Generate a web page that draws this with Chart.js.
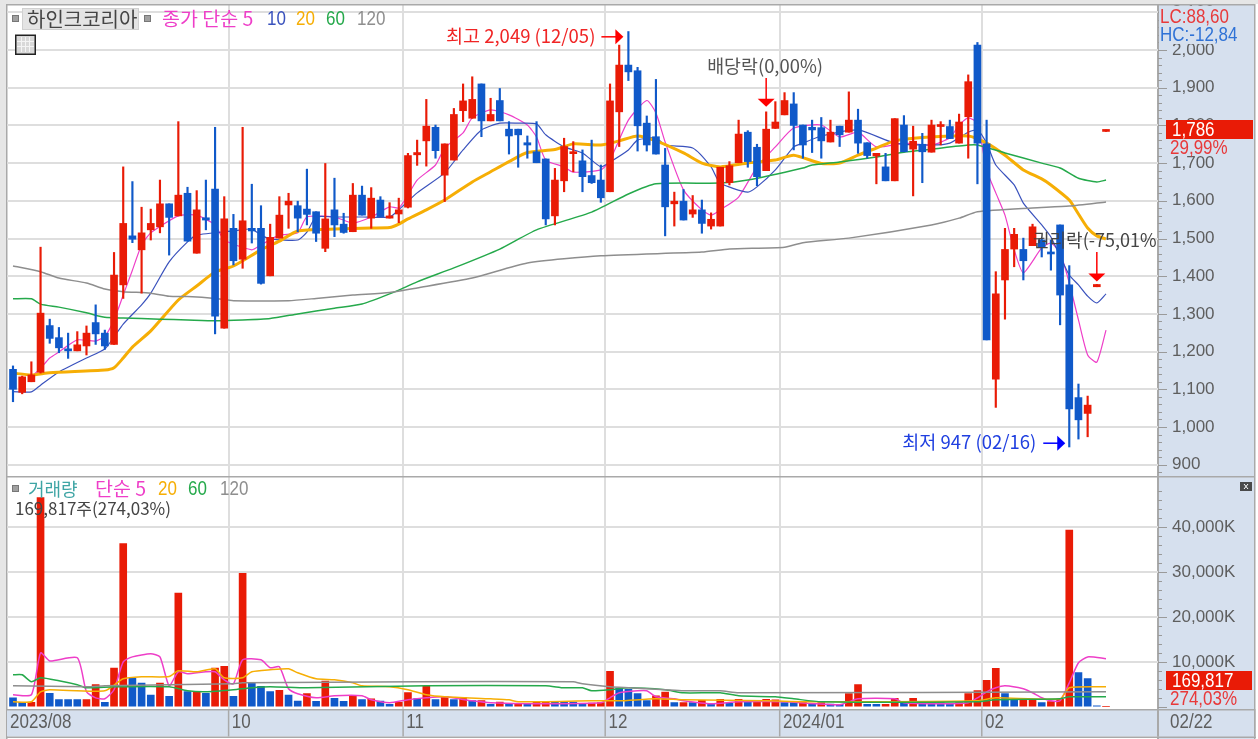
<!DOCTYPE html>
<html>
<head>
<meta charset="utf-8">
<title>하인크코리아</title>
<script src="https://cdn.jsdelivr.net/npm/chart.js@4/dist/chart.umd.min.js"></script>
<style>
    html, body { margin: 0; padding: 0; background: #fff; overflow: hidden; }
    canvas { position: absolute; left: 0; display: block; }
    #priceChart { top: 0; }
    #volumeChart { top: 476px; }
</style>
</head>
<body>
<canvas id="priceChart" width="1258" height="476"></canvas>
<canvas id="volumeChart" width="1258" height="263"></canvas>
<script>
// Price candles
const opens = [
    1153, 1092, 1120, 1145, 1269, 1237, 1207, 1202, 1215, 1277,
    1249, 1219, 1377, 1507, 1470, 1523, 1531, 1592, 1560, 1620,
    1461, 1555, 1631, 1262, 1527, 1445, 1527, 1527, 1401, 1501,
    1589, 1587, 1578, 1571, 1474, 1576, 1538, 1518, 1615, 1554,
    1602, 1554, 1565, 1583, 1722, 1759, 1795, 1668, 1708, 1839,
    1819, 1910, 1812, 1866, 1790, 1790, 1754, 1730, 1711, 1560,
    1653, 1725, 1706, 1667, 1655, 1624, 1836, 1960, 1945, 1806,
    1770, 1695, 1592, 1599, 1565, 1576, 1533, 1533, 1648, 1701,
    1782, 1742, 1680, 1792, 1828, 1857, 1801, 1795, 1794, 1756,
    1798, 1782, 1814, 1754, 1719, 1690, 1653, 1801, 1737, 1750,
    1729, 1797, 1797, 1753, 1823, 2013, 1751, 1127, 1390, 1472,
    1471, 1481, 1496, 1463, 1536, 1377, 1078, 1036, 1372, 1784
];
const highs = [
    1162, 1135, 1173, 1477, 1286, 1264, 1249, 1253, 1268, 1324,
    1257, 1463, 1690, 1651, 1583, 1578, 1655, 1592, 1810, 1636,
    1627, 1655, 1795, 1611, 1564, 1795, 1644, 1587, 1538, 1611,
    1620, 1599, 1684, 1571, 1699, 1660, 1567, 1646, 1639, 1635,
    1611, 1595, 1607, 1726, 1761, 1869, 1801, 1751, 1845, 1910,
    1929, 1910, 1872, 1898, 1810, 1790, 1772, 1810, 1711, 1686,
    1766, 1757, 1735, 1761, 1695, 1910, 2013, 2049, 1954, 1825,
    1922, 1739, 1623, 1630, 1614, 1602, 1568, 1689, 1704, 1814,
    1786, 1750, 1836, 1863, 1887, 1887, 1801, 1814, 1821, 1814,
    1798, 1889, 1843, 1754, 1726, 1726, 1818, 1826, 1798, 1779,
    1814, 1810, 1814, 1830, 1934, 2020, 1814, 1412, 1527, 1527,
    1501, 1538, 1501, 1496, 1536, 1428, 1114, 1082, 1378, 1788
];
const lows = [
    1067, 1088, 1120, 1143, 1222, 1197, 1182, 1202, 1191, 1219,
    1206, 1219, 1341, 1489, 1355, 1496, 1515, 1456, 1560, 1493,
    1461, 1523, 1247, 1262, 1430, 1421, 1488, 1379, 1401, 1501,
    1527, 1518, 1536, 1492, 1465, 1505, 1514, 1518, 1562, 1527,
    1558, 1554, 1542, 1581, 1694, 1692, 1713, 1598, 1708, 1810,
    1819, 1770, 1812, 1812, 1724, 1689, 1713, 1701, 1536, 1536,
    1624, 1677, 1624, 1646, 1596, 1624, 1744, 1919, 1732, 1732,
    1724, 1507, 1533, 1549, 1556, 1514, 1525, 1533, 1642, 1701,
    1689, 1640, 1680, 1792, 1828, 1735, 1713, 1728, 1713, 1756,
    1744, 1782, 1726, 1713, 1645, 1653, 1653, 1730, 1613, 1648,
    1729, 1748, 1765, 1753, 1713, 1645, 1231, 1052, 1286, 1425,
    1390, 1481, 1451, 1416, 1271, 947, 968, 974, 1372, 1784
];
const closes = [
    1100, 1133, 1138, 1302, 1235, 1210, 1202, 1218, 1249, 1247,
    1215, 1403, 1540, 1498, 1515, 1540, 1592, 1556, 1615, 1493,
    1576, 1549, 1294, 1552, 1441, 1547, 1520, 1381, 1503, 1562,
    1599, 1554, 1564, 1514, 1552, 1536, 1516, 1615, 1562, 1607,
    1558, 1560, 1576, 1720, 1728, 1798, 1733, 1751, 1829, 1865,
    1869, 1812, 1829, 1812, 1772, 1775, 1748, 1701, 1552, 1655,
    1744, 1730, 1664, 1648, 1608, 1865, 1960, 1942, 1799, 1748,
    1724, 1584, 1599, 1549, 1576, 1540, 1551, 1689, 1693, 1777,
    1704, 1664, 1790, 1809, 1866, 1800, 1748, 1788, 1759, 1782,
    1775, 1814, 1753, 1720, 1726, 1653, 1818, 1730, 1758, 1730,
    1801, 1801, 1765, 1809, 1916, 1753, 1231, 1353, 1471, 1511,
    1441, 1531, 1477, 1459, 1350, 1048, 1019, 1058, 1378, 1786
];

// Volume in thousand shares, and 1 = red bar, 0 = blue bar
const volumes = [
    2075, 1110, 1110, 46600, 3108, 1700, 1700, 1700, 1700, 5030,
    1110, 8730, 36400, 6440, 5400, 2740, 5400, 2440, 25380, 3480,
    3480, 3108, 8730, 9100, 2440, 29750, 5400, 4660, 3480, 3770,
    2740, 1400, 3040, 1330, 5850, 2000, 1330, 2520, 1700, 1900,
    1400, 660, 1110, 3260, 1920, 4740, 1700, 2370, 1700, 2150,
    1480, 1480, 660, 1180, 740, 740, 740, 1330, 1180, 1180,
    1180, 1180, 810, 960, 1040, 8000, 4220, 4000, 3040, 1480,
    2520, 3400, 1040, 1040, 1040, 1550, 740, 1780, 890, 1780,
    1180, 1180, 1780, 1630, 1040, 1040, 1180, 740, 1040, 740,
    660, 3040, 5030, 660, 660, 660, 2000, 1040, 2000, 1040,
    1040, 1040, 660, 1040, 3040, 3700, 6000, 8660, 3040, 1780,
    1780, 1780, 1040, 1260, 1780, 39400, 7700, 6370, 300, 170
];
const volumeUp = [
    0, 0, 1, 1, 0, 0, 0, 0, 1, 1,
    0, 1, 1, 0, 0, 0, 1, 0, 1, 0,
    1, 0, 1, 1, 0, 1, 0, 0, 0, 1,
    0, 0, 1, 0, 1, 0, 0, 1, 0, 1,
    0, 0, 1, 1, 0, 1, 0, 1, 0, 1,
    0, 1, 0, 1, 0, 1, 0, 1, 1, 0,
    0, 0, 0, 1, 1, 1, 0, 0, 0, 0,
    1, 1, 0, 1, 0, 1, 0, 1, 0, 1,
    0, 1, 1, 1, 0, 0, 1, 0, 1, 0,
    0, 1, 1, 0, 0, 1, 1, 0, 1, 0,
    0, 0, 0, 1, 1, 1, 1, 1, 0, 0,
    1, 1, 0, 1, 1, 1, 0, 0, 0, 1
];

// Price moving averages: bar index and value at each reading
const ma5At = [2, 3, 4, 5, 7, 9, 10, 11, 12, 13, 14, 15, 18, 20, 22, 23, 26, 27, 29, 31, 32, 35, 37, 39, 41, 42, 43, 44, 46, 47, 49, 50, 52, 54, 56, 57, 58, 60, 61, 64, 65, 67, 69, 70, 71, 73, 75, 76, 77, 79, 81, 83, 85, 88, 90, 92, 94, 97, 100, 102, 103, 104, 105, 106, 107, 108, 109, 110, 112, 113, 114, 115, 116, 117, 118, 119];
const ma5 = [1133, 1156, 1183, 1199, 1231, 1228, 1241, 1284, 1350, 1416, 1483, 1515, 1560, 1562, 1536, 1496, 1470, 1483, 1509, 1515, 1557, 1557, 1541, 1557, 1584, 1581, 1615, 1655, 1695, 1740, 1780, 1820, 1841, 1828, 1801, 1769, 1708, 1690, 1676, 1682, 1708, 1814, 1866, 1833, 1756, 1629, 1576, 1562, 1576, 1610, 1690, 1743, 1793, 1801, 1769, 1782, 1743, 1753, 1748, 1767, 1801, 1820, 1806, 1682, 1621, 1562, 1470, 1409, 1475, 1488, 1462, 1382, 1284, 1191, 1172, 1257];
const ma10At = [0, 2, 3, 5, 8, 10, 11, 12, 14, 15, 17, 19, 20, 24, 26, 27, 28, 31, 32, 33, 35, 38, 41, 42, 44, 47, 49, 51, 53, 55, 57, 58, 60, 62, 64, 65, 67, 68, 70, 71, 74, 76, 77, 80, 81, 83, 85, 86, 88, 92, 96, 100, 102, 104, 105, 106, 107, 109, 110, 112, 113, 115, 116, 117, 118, 119];
const ma10 = [1094, 1093, 1111, 1146, 1183, 1207, 1239, 1273, 1324, 1355, 1438, 1491, 1509, 1520, 1525, 1509, 1499, 1496, 1517, 1557, 1557, 1557, 1557, 1576, 1621, 1674, 1735, 1788, 1806, 1806, 1804, 1775, 1743, 1727, 1690, 1703, 1735, 1761, 1767, 1748, 1740, 1690, 1647, 1623, 1637, 1682, 1743, 1753, 1772, 1788, 1753, 1748, 1753, 1782, 1788, 1753, 1695, 1642, 1594, 1536, 1504, 1403, 1377, 1347, 1329, 1353];
const ma20At = [0, 2, 4, 10, 11, 12, 13, 15, 18, 20, 22, 24, 27, 29, 31, 35, 39, 41, 42, 43, 45, 47, 50, 52, 54, 56, 59, 61, 64, 66, 68, 70, 73, 75, 77, 80, 83, 85, 88, 90, 92, 94, 96, 99, 104, 106, 108, 110, 112, 113, 115, 116, 117, 118, 119];
const ma20 = [1143, 1138, 1144, 1151, 1157, 1183, 1212, 1255, 1337, 1374, 1411, 1427, 1470, 1493, 1520, 1525, 1528, 1529, 1538, 1552, 1576, 1602, 1650, 1677, 1704, 1728, 1736, 1751, 1748, 1759, 1772, 1759, 1727, 1700, 1690, 1700, 1708, 1721, 1699, 1700, 1721, 1740, 1759, 1768, 1772, 1753, 1721, 1682, 1658, 1642, 1602, 1565, 1528, 1507, 1499];
const ma60At = [0, 2, 3, 5, 8, 10, 12, 16, 19, 22, 25, 28, 31, 35, 38, 41, 42, 44, 48, 53, 57, 63, 67, 70, 77, 80, 86, 87, 90, 94, 97, 100, 104, 105, 108, 112, 114, 116, 118, 119];
const ma60 = [1340, 1340, 1326, 1318, 1303, 1291, 1289, 1286, 1284, 1282, 1284, 1288, 1300, 1315, 1326, 1353, 1363, 1385, 1422, 1472, 1523, 1570, 1618, 1645, 1647, 1655, 1687, 1695, 1703, 1716, 1729, 1737, 1748, 1748, 1727, 1700, 1687, 1660, 1650, 1655];
const ma120At = [0, 3, 5, 8, 10, 12, 15, 17, 19, 22, 24, 30, 33, 37, 41, 44, 50, 56, 64, 75, 78, 84, 86, 91, 100, 103, 105, 111, 115, 119];
const ma120 = [1427, 1412, 1395, 1382, 1366, 1359, 1355, 1347, 1346, 1341, 1335, 1335, 1341, 1350, 1357, 1369, 1395, 1435, 1454, 1464, 1472, 1477, 1489, 1501, 1536, 1554, 1571, 1581, 1586, 1597];

// Volume moving averages, same idea
const vol5At = [0, 2, 3, 4, 7, 8, 9, 10, 11, 12, 13, 15, 16, 17, 18, 19, 21, 22, 23, 24, 25, 27, 28, 29, 30, 31, 33, 35, 38, 39, 41, 43, 45, 47, 50, 52, 57, 64, 65, 66, 68, 69, 70, 72, 73, 76, 79, 84, 90, 92, 96, 97, 101, 104, 105, 106, 107, 108, 110, 111, 112, 113, 114, 115, 116, 117, 119];
const vol5 = [2780, 2780, 12100, 10300, 11000, 3440, 2100, 1890, 3890, 10100, 11200, 11900, 11200, 4780, 7890, 7440, 7890, 7890, 6110, 5220, 10550, 10550, 8780, 9000, 4110, 3000, 2110, 2560, 2560, 1670, 1000, 1670, 2110, 2330, 1440, 1000, 780, 1000, 2110, 3220, 3670, 3670, 2330, 1890, 1440, 780, 1220, 1220, 560, 1890, 1890, 1000, 780, 1000, 2110, 3440, 4330, 4780, 4110, 3220, 2110, 1440, 1440, 5440, 9890, 11200, 10800];
const vol20At = [0, 2, 3, 4, 10, 12, 14, 17, 18, 20, 22, 23, 25, 26, 28, 30, 31, 33, 35, 37, 38, 41, 43, 45, 47, 52, 54, 55, 63, 66, 70, 73, 82, 88, 105, 107, 114, 115, 119];
const vol20 = [1220, 1220, 3440, 3890, 3670, 6330, 6780, 6840, 8110, 7890, 8560, 6550, 6550, 7890, 8330, 8560, 7670, 6330, 6110, 5440, 4780, 4560, 3890, 2780, 2330, 1890, 1670, 1220, 1440, 1440, 1890, 1670, 1440, 1220, 1440, 2110, 1890, 4330, 4560];
const vol60At = [0, 1, 2, 3, 5, 7, 8, 11, 17, 19, 21, 24, 26, 28, 32, 45, 58, 60, 62, 63, 65, 67, 71, 73, 77, 79, 83, 85, 88, 105, 107, 114, 115, 119];
const vol60 = [7220, 7220, 5670, 6560, 5890, 5000, 4330, 4560, 4560, 3670, 3440, 3890, 4330, 4560, 4330, 4780, 4780, 4330, 4330, 3670, 3890, 4330, 3890, 3220, 3220, 2560, 2330, 1890, 1220, 1220, 1670, 1890, 2330, 2330];
const vol120At = [0, 8, 10, 24, 25, 44, 61, 62, 65, 67, 71, 73, 77, 79, 119];
const vol120 = [4780, 4560, 4780, 5220, 5440, 5670, 5670, 5220, 4560, 4330, 3890, 3670, 3670, 3220, 3440];

// Axis labels
const monthAt = [23.5, 42.5, 64.5, 83.5, 105.5];
const monthLabels = ['10', '11', '12', '2024/01', '02'];
const firstMonthLabel = '2023/08';
const lastDateLabel = '02/22';

// Colours
const RED = '#e91b06';
const BLUE = '#1059c9';
const MA5_COLOR = '#ee3ec8';
const MA10_COLOR = '#3a52bd';
const MA20_COLOR = '#f6ae05';
const MA60_COLOR = '#25a94b';
const MA120_COLOR = '#8e8e8e';
const GRID = '#dedede';
const BAND = '#d6e0ee';
const EDGE = '#a9a9a9';
const AXIS_TEXT = '#5e5e5e';
const LATIN = '"Liberation Sans", sans-serif';
const KOREAN = '"Noto Sans CJK KR", sans-serif';

const PLOT_RIGHT = 1158;
const FRAME_RIGHT = 1255;

function points(at, values) {
    return at.map((x, i) => ({ x: x, y: values[i] }));
}

function lineSet(at, values, color, width) {
    return {
        type: 'line',
        data: points(at, values),
        borderColor: color,
        borderWidth: width,
        pointRadius: 0,
        tension: 0.2,
        order: 2
    };
}

function text(ctx, str, x, y, color, font, align) {
    ctx.font = font;
    ctx.fillStyle = color;
    ctx.textAlign = align || 'left';
    ctx.textBaseline = 'middle';
    ctx.fillText(str, x, y);
}

// Numbers in the reference are tall and thin, so squeeze them sideways
function thin(ctx, str, x, y, color) {
    ctx.save();
    ctx.translate(x, y);
    ctx.scale(0.85, 1);
    text(ctx, str, 0, 0, color, '20px ' + LATIN);
    ctx.restore();
}

function arrowRight(ctx, x1, x2, y, color) {
    ctx.strokeStyle = color;
    ctx.fillStyle = color;
    ctx.lineWidth = 1.5;
    ctx.beginPath();
    ctx.moveTo(x1, y);
    ctx.lineTo(x2 - 6, y);
    ctx.stroke();
    ctx.beginPath();
    ctx.moveTo(x2 - 8, y - 7.5);
    ctx.lineTo(x2, y);
    ctx.lineTo(x2 - 8, y + 7.5);
    ctx.closePath();
    ctx.fill();
}

function arrowDown(ctx, x, y1, y2, color) {
    ctx.strokeStyle = color;
    ctx.fillStyle = color;
    ctx.lineWidth = 1.5;
    ctx.beginPath();
    ctx.moveTo(x, y1);
    ctx.lineTo(x, y2 - 6);
    ctx.stroke();
    ctx.beginPath();
    ctx.moveTo(x - 8.5, y2 - 8);
    ctx.lineTo(x + 8.5, y2 - 8);
    ctx.lineTo(x, y2);
    ctx.closePath();
    ctx.fill();
}

// Tick marks on the right axis, long on labelled values
function axisMarks(chart, every) {
    const ctx = chart.ctx;
    const scale = chart.scales.y;
    ctx.strokeStyle = '#9a9a9a';
    ctx.lineWidth = 1;
    scale.ticks.forEach(t => {
        const y = Math.round(scale.getPixelForValue(t.value)) + 0.5;
        ctx.beginPath();
        ctx.moveTo(PLOT_RIGHT, y);
        ctx.lineTo(PLOT_RIGHT + (t.value % every === 0 ? 9 : 4), y);
        ctx.stroke();
    });
}

function sideBand(chart) {
    const ctx = chart.ctx;
    const a = chart.chartArea;
    ctx.fillStyle = BAND;
    ctx.fillRect(PLOT_RIGHT, 0, FRAME_RIGHT - PLOT_RIGHT, chart.height);
    ctx.fillStyle = '#ffffff';
    ctx.fillRect(a.left, a.top, a.right - a.left, a.bottom - a.top);
    ctx.fillStyle = '#e6e6e6';
    ctx.fillRect(0, 0, 6, chart.height);
    ctx.fillStyle = EDGE;
    ctx.fillRect(6, 0, 1.5, chart.height);
    ctx.fillRect(PLOT_RIGHT - 1, 0, 2, chart.height);
    ctx.fillRect(FRAME_RIGHT - 1, 0, 1.5, chart.height);
}

function smallSquare(ctx, x, y) {
    ctx.fillStyle = '#a0a0a0';
    ctx.fillRect(x, y, 7, 7);
    ctx.strokeStyle = '#777777';
    ctx.lineWidth = 1;
    ctx.strokeRect(x + 0.5, y + 0.5, 6, 6);
}

const priceDecor = {
    id: 'priceDecor',
    beforeDraw(chart) {
        sideBand(chart);
    },
    afterDraw(chart) {
        const ctx = chart.ctx;
        const xs = chart.scales.x;
        const ys = chart.scales.y;
        axisMarks(chart, 100);

        // Frame top
        ctx.fillStyle = '#e6e6e6';
        ctx.fillRect(0, 0, 1258, 4);
        ctx.fillStyle = EDGE;
        ctx.fillRect(6, 4, FRAME_RIGHT - 6, 1.5);

        // Title and legend row
        smallSquare(ctx, 12, 15);
        ctx.fillStyle = '#e4e4e4';
        ctx.fillRect(22, 8, 117, 22);
        ctx.strokeStyle = '#d0d0d0';
        ctx.lineWidth = 1;
        ctx.strokeRect(22.5, 8.5, 116, 21);
        text(ctx, '하인크코리아', 27, 19, '#444444', '20px ' + KOREAN);
        smallSquare(ctx, 144, 15);
        text(ctx, '종가 단순 5', 162, 19, MA5_COLOR, '19.5px ' + KOREAN);
        thin(ctx, '10', 267, 19, MA10_COLOR);
        thin(ctx, '20', 296, 19, MA20_COLOR);
        thin(ctx, '60', 326, 19, MA60_COLOR);
        thin(ctx, '120', 357, 19, MA120_COLOR);

        // Table icon
        ctx.fillStyle = '#d8d8d8';
        ctx.fillRect(16, 35, 19, 19);
        ctx.strokeStyle = '#222222';
        ctx.lineWidth = 1.5;
        ctx.strokeRect(15.75, 35.25, 19.5, 19);
        ctx.strokeStyle = '#f4f4f4';
        ctx.lineWidth = 1;
        ctx.beginPath();
        [21, 25, 29].forEach(x => { ctx.moveTo(x + 0.5, 37); ctx.lineTo(x + 0.5, 52); });
        [41, 46].forEach(y => { ctx.moveTo(17, y + 0.5); ctx.lineTo(34, y + 0.5); });
        ctx.stroke();

        // Highest / lowest notes
        const hiX = xs.getPixelForValue(67);
        const hiY = ys.getPixelForValue(2035);
        arrowRight(ctx, hiX - 27, hiX - 5, hiY, '#ff0000');
        text(ctx, '최고 2,049 (12/05)', hiX - 33, hiY - 1, '#f02525', '18.5px ' + KOREAN, 'right');

        const loX = xs.getPixelForValue(115);
        const loY = ys.getPixelForValue(957);
        arrowRight(ctx, loX - 26, loX - 4, loY, '#0000ff');
        text(ctx, '최저 947 (02/16)', loX - 33, loY - 1, '#1f3fe0', '18.5px ' + KOREAN, 'right');

        // Ex-dividend and ex-rights marks
        const divX = xs.getPixelForValue(82);
        arrowDown(ctx, divX, 78, ys.getPixelForValue(highs[82]) - 5, '#ff0000');
        text(ctx, '배당락(0,00%)', divX - 59, 66, '#555555', '18.4px ' + KOREAN);

        const rightX = xs.getPixelForValue(118);
        arrowDown(ctx, rightX, 252, ys.getPixelForValue(highs[118]) - 3, '#ff0000');
        text(ctx, '권리락(-75,01%', 1033, 240, '#444444', '18px ' + KOREAN);

        // LC / HC box and current price
        ctx.fillStyle = BAND;
        ctx.fillRect(PLOT_RIGHT + 1, 6, FRAME_RIGHT - PLOT_RIGHT - 2, 38);
        thin(ctx, 'LC:88,60', 1160, 17, '#e8393a');
        thin(ctx, 'HC:-12,84', 1160, 35, '#2f72d6');
        ctx.fillStyle = RED;
        ctx.fillRect(1166, 120, 87, 19);
        thin(ctx, '1,786', 1172, 130, '#ffffff');
        thin(ctx, '29,99%', 1170, 148, '#e8393a');
    }
};

const volumeDecor = {
    id: 'volumeDecor',
    beforeDraw(chart) {
        sideBand(chart);
    },
    afterDraw(chart) {
        const ctx = chart.ctx;
        const xs = chart.scales.x;
        const a = chart.chartArea;
        axisMarks(chart, 10000);

        // Panel divider
        ctx.fillStyle = EDGE;
        ctx.fillRect(6, 0, FRAME_RIGHT - 6, 1.5);

        // Legend row
        smallSquare(ctx, 12, 9);
        text(ctx, '거래량', 28, 13, '#3fa5a5', '18px ' + KOREAN);
        text(ctx, '단순 5', 95, 13, MA5_COLOR, '19.5px ' + KOREAN);
        thin(ctx, '20', 158, 13, MA20_COLOR);
        thin(ctx, '60', 188, 13, MA60_COLOR);
        thin(ctx, '120', 220, 13, MA120_COLOR);
        text(ctx, '169,817주(274,03%)', 15, 33, '#444444', '17px ' + KOREAN);

        // Close button
        ctx.fillStyle = '#4a4a4a';
        ctx.fillRect(1240, 6, 12, 9);
        ctx.strokeStyle = '#ffffff';
        ctx.lineWidth = 1;
        ctx.beginPath();
        ctx.moveTo(1244, 8);
        ctx.lineTo(1248, 13);
        ctx.moveTo(1248, 8);
        ctx.lineTo(1244, 13);
        ctx.stroke();

        // Date band
        const top = a.bottom + 0.5;
        const bottom = 260.5;
        ctx.fillStyle = BAND;
        ctx.fillRect(7, top, FRAME_RIGHT - 7, bottom - top);
        ctx.fillStyle = EDGE;
        ctx.fillRect(7, top, FRAME_RIGHT - 7, 1.5);
        ctx.fillRect(6, bottom, FRAME_RIGHT - 5, 1.5);
        ctx.fillRect(PLOT_RIGHT - 1, top, 2, bottom - top);
        ctx.fillRect(FRAME_RIGHT - 1, top, 1.5, bottom - top);
        const mid = (top + bottom) / 2;
        thin(ctx, firstMonthLabel, 10, mid, AXIS_TEXT);
        monthAt.forEach((m, i) => {
            const x = xs.getPixelForValue(m);
            ctx.fillStyle = EDGE;
            ctx.fillRect(x - 1, top, 1.5, bottom - top);
            thin(ctx, monthLabels[i], x + 3, mid, AXIS_TEXT);
        });
        thin(ctx, lastDateLabel, 1170, mid, AXIS_TEXT);

        // Current volume
        ctx.fillStyle = RED;
        ctx.fillRect(1166, 195, 86, 19);
        thin(ctx, '169,817', 1172, 205, '#ffffff');
        thin(ctx, '274,03%', 1170, 223, '#e8393a');
    }
};

function xAxis(bottomSpace) {
    return {
        type: 'linear',
        offset: false,
        min: -0.653,
        max: 124.66,
        afterBuildTicks: s => { s.ticks = monthAt.map(m => ({ value: m })); },
        afterFit: s => { s.height = bottomSpace; },
        ticks: { display: false, autoSkip: false },
        grid: { color: GRID, lineWidth: 2, drawTicks: false, offset: false },
        border: { display: false }
    };
}

function yAxis(min, max, top, step, every, label) {
    return {
        position: 'right',
        min: min,
        max: max,
        // stepSize alone drifts off round values on the volume axis, so list them
        afterBuildTicks: s => {
            const list = [];
            for (let v = Math.ceil(min / step) * step; v <= top; v += step) {
                list.push({ value: v });
            }
            s.ticks = list;
        },
        // tick padding also counts as room above and below the axis, drop that
        afterFit: s => {
            s.width = 100;
            s.paddingTop = 0;
            s.paddingBottom = 0;
        },
        ticks: {
            autoSkip: false,
            padding: 14,
            color: AXIS_TEXT,
            font: { family: LATIN, size: 17 },
            callback: label
        },
        grid: {
            color: c => (c.tick.value % every === 0 && label(c.tick.value) !== '' ? GRID : 'transparent'),
            lineWidth: 2,
            drawTicks: false
        },
        border: { display: false }
    };
}

const baseOptions = {
    responsive: false,
    animation: false,
    devicePixelRatio: 1,
    plugins: { legend: { display: false }, tooltip: { enabled: false } }
};

// Price panel
new Chart(document.getElementById('priceChart').getContext('2d'), {
    type: 'bar',
    data: {
        datasets: [
            {
                data: highs.map((h, i) => ({ x: i, y: [lows[i], h] })),
                backgroundColor: closes.map((c, i) => (c >= opens[i] ? RED : BLUE)),
                barThickness: 1.5,
                grouped: false,
                order: 1
            },
            {
                data: opens.map((o, i) => ({ x: i, y: [o, closes[i]] })),
                backgroundColor: closes.map((c, i) => (c >= opens[i] ? RED : BLUE)),
                barThickness: 7,
                minBarLength: 2,
                grouped: false,
                order: 0
            },
            lineSet(ma120At, ma120, MA120_COLOR, 1.5),
            lineSet(ma60At, ma60, MA60_COLOR, 1.5),
            lineSet(ma20At, ma20, MA20_COLOR, 3),
            lineSet(ma10At, ma10, MA10_COLOR, 1.2),
            lineSet(ma5At, ma5, MA5_COLOR, 1.2)
        ]
    },
    options: {
        ...baseOptions,
        layout: { autoPadding: false, padding: { left: 7, right: 0, top: 5, bottom: 0 } },
        scales: {
            x: xAxis(0),
            y: yAxis(870, 2119.4, 2119.4, 20, 100, v => (v % 100 === 0 ? v.toLocaleString('en-US') : ''))
        }
    },
    plugins: [priceDecor]
});

// Volume panel
new Chart(document.getElementById('volumeChart').getContext('2d'), {
    type: 'bar',
    data: {
        datasets: [
            {
                data: volumes.map((v, i) => ({ x: i, y: v })),
                backgroundColor: volumeUp.map(u => (u ? RED : BLUE)),
                barThickness: 7,
                grouped: false,
                order: 0
            },
            lineSet(vol120At, vol120, MA120_COLOR, 1.5),
            lineSet(vol60At, vol60, MA60_COLOR, 1.5),
            lineSet(vol20At, vol20, MA20_COLOR, 1.5),
            lineSet(vol5At, vol5, MA5_COLOR, 1.5)
        ].map((d, i) => (i === 0 ? d : { ...d, order: -1 }))
    },
    options: {
        ...baseOptions,
        layout: { autoPadding: false, padding: { left: 7, right: 0, top: 1, bottom: 3 } },
        scales: {
            x: xAxis(27.5),
            y: yAxis(-270, 51180, 48000, 2000, 10000, v => (v % 10000 === 0 && v > 0 ? v.toLocaleString('en-US') + 'K' : ''))
        }
    },
    plugins: [volumeDecor]
});
</script>
</body>
</html>
